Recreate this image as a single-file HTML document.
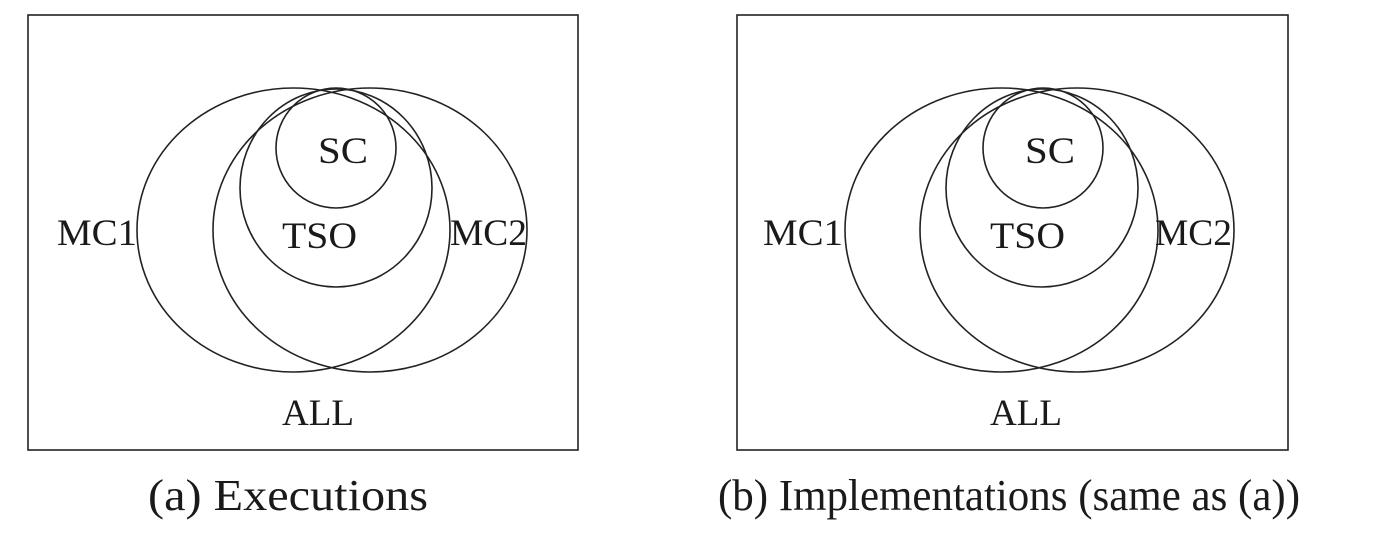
<!DOCTYPE html>
<html><head><meta charset="utf-8"><style>
html,body{margin:0;padding:0;background:#fff;}
svg{display:block;}
text{font-family:"Liberation Serif",serif;fill:#1a1a1a;}
</style></head><body>
<svg width="1376" height="540" viewBox="0 0 1376 540" xmlns="http://www.w3.org/2000/svg">
<g fill="none" stroke="#222" stroke-width="1.6">
<rect x="28" y="15" width="550" height="435"/>
<ellipse cx="293.5" cy="230" rx="156.5" ry="142"/>
<ellipse cx="370" cy="230" rx="157" ry="142"/>
<ellipse cx="336" cy="188" rx="96" ry="99"/>
<ellipse cx="336" cy="148" rx="60" ry="60"/>
<rect x="737" y="15" width="551" height="435"/>
<ellipse cx="1001.5" cy="230" rx="156.5" ry="142"/>
<ellipse cx="1077" cy="230" rx="157" ry="142"/>
<ellipse cx="1042" cy="188" rx="96" ry="99"/>
<ellipse cx="1043" cy="148" rx="60" ry="60"/>
</g>
<g font-size="37">
<text x="318" y="163" textLength="50" lengthAdjust="spacingAndGlyphs">SC</text>
<text x="282" y="248" textLength="75" lengthAdjust="spacingAndGlyphs">TSO</text>
<text x="57" y="245" textLength="80" lengthAdjust="spacingAndGlyphs">MC1</text>
<text x="450" y="245" textLength="77" lengthAdjust="spacingAndGlyphs">MC2</text>
<text x="282" y="425" textLength="72" lengthAdjust="spacingAndGlyphs">ALL</text>
<text x="1025" y="163" textLength="50" lengthAdjust="spacingAndGlyphs">SC</text>
<text x="990" y="248" textLength="75" lengthAdjust="spacingAndGlyphs">TSO</text>
<text x="763" y="245" textLength="80" lengthAdjust="spacingAndGlyphs">MC1</text>
<text x="1155" y="245" textLength="77" lengthAdjust="spacingAndGlyphs">MC2</text>
<text x="990" y="425" textLength="72" lengthAdjust="spacingAndGlyphs">ALL</text>
</g>
<g font-size="44">
<text x="148" y="510" textLength="280" lengthAdjust="spacingAndGlyphs">(a) Executions</text>
<text x="718" y="510" textLength="582" lengthAdjust="spacingAndGlyphs">(b) Implementations (same as (a))</text>
</g>
</svg>
</body></html>
